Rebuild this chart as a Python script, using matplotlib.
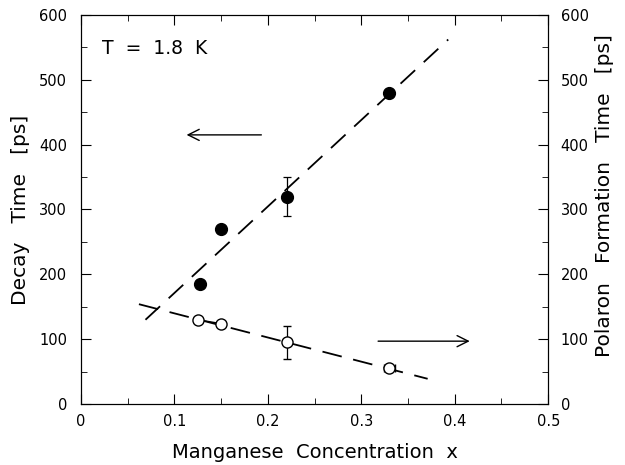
import numpy as np
import matplotlib
matplotlib.use("Agg")
import matplotlib.pyplot as plt
from matplotlib.ticker import MultipleLocator

# decay time (filled, left axis)
x_decay = [0.127, 0.15, 0.22, 0.33]
decay = [185, 270, 320, 480]
decay_err = [0, 0, 30, 0]

# polaron formation time (open, right axis)
x_pol = [0.125, 0.15, 0.22, 0.33]
polaron = [130, 124, 95, 55]
polaron_err = [0, 0, 25, 0]
polaron_xerr = [0, 0, 0, 0.006]

# dashed guide lines
fit_decay_x = [0.069, 0.393]
fit_decay_y = [130, 562]
fit_pol_x = [0.062, 0.371]
fit_pol_y = [154, 39]

plt.rcParams["font.family"] = ["DejaVu Sans"]

fig = plt.figure(figsize=(6.25, 4.65), dpi=100)
ax = fig.add_axes([0.1296, 0.131, 0.7475, 0.837])

dash = (0, (11, 6.5))
ax.plot(fit_decay_x, fit_decay_y, color="black", lw=1.3, linestyle=dash)
ax.plot(fit_pol_x, fit_pol_y, color="black", lw=1.3, linestyle=dash)

ax.errorbar(x_decay, decay, yerr=decay_err, fmt="o", color="black",
            ms=8.5, capsize=3, elinewidth=0.9, capthick=0.9)
ax.plot(x_pol[:2], polaron[:2], color="black", lw=1.0)
ax.errorbar(x_pol, polaron, yerr=polaron_err, xerr=polaron_xerr, fmt="o",
            mfc="white", mec="black", ecolor="black", ms=8, mew=1.0,
            capsize=3, elinewidth=0.9, capthick=0.9)

# arrows pointing to the axis each series belongs to
ax.annotate("", xy=(0.110, 415), xytext=(0.196, 415),
            arrowprops=dict(arrowstyle="->", color="black", lw=1.0,
                            mutation_scale=20))
ax.annotate("", xy=(0.419, 97), xytext=(0.315, 97),
            arrowprops=dict(arrowstyle="->", color="black", lw=1.0,
                            mutation_scale=20))

ax.text(0.022, 548, "T  =  1.8  K", fontsize=13.5, va="center")

ax.set_xlim(0, 0.5)
ax.set_ylim(0, 600)
ax.xaxis.set_major_locator(MultipleLocator(0.1))
ax.xaxis.set_minor_locator(MultipleLocator(0.05))
ax.yaxis.set_major_locator(MultipleLocator(100))
ax.yaxis.set_minor_locator(MultipleLocator(50))
ax.set_xticks([0, 0.1, 0.2, 0.3, 0.4, 0.5])
ax.set_xticklabels(["0", "0.1", "0.2", "0.3", "0.4", "0.5"])
ax.tick_params(which="both", direction="in", top=True, labelsize=10.5)
ax.tick_params(which="major", length=7)
ax.tick_params(which="minor", length=4)
ax.tick_params(axis="y", pad=10)
ax.tick_params(axis="x", pad=7)
ax.set_xlabel("Manganese  Concentration  x", fontsize=14)
ax.xaxis.set_label_coords(0.5, -0.1)
ax.set_ylabel("Decay   Time   [ps]", fontsize=14.5)
ax.yaxis.set_label_coords(-0.11, 0.5)

ax2 = ax.twinx()
ax2.set_ylim(0, 600)
ax2.yaxis.set_major_locator(MultipleLocator(100))
ax2.yaxis.set_minor_locator(MultipleLocator(50))
ax2.tick_params(which="both", direction="in", labelsize=10.5, pad=9)
ax2.tick_params(which="major", length=7)
ax2.tick_params(which="minor", length=4)
ax2.set_ylabel("Polaron   Formation   Time   [ps]", fontsize=14.5)
ax2.yaxis.set_label_coords(1.1, 0.535)

fig.savefig("out.png", dpi=100)
